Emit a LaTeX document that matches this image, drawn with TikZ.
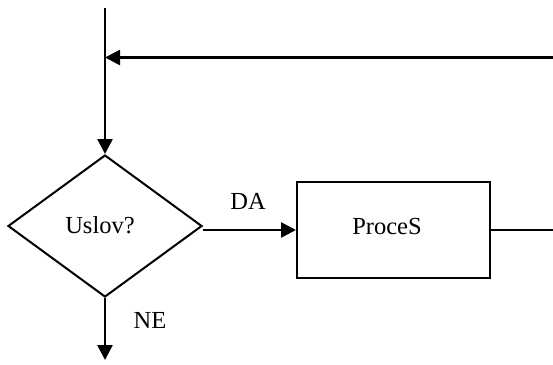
\documentclass[tikz,border=0pt]{standalone}
\usepackage{fontspec}
\setmainfont{Liberation Serif}
\usetikzlibrary{shapes.geometric,arrows.meta}
\tikzset{
  flow/.style={line width=2.6pt},
  thinflow/.style={line width=2pt},
  arrowed/.style={flow,-{Triangle[length=15pt,width=15pt]}},
  outline/.style={draw,line width=2pt,inner sep=0pt},
  lbl/.style={font=\fontsize{24.5}{28}\selectfont,inner sep=0pt}
}
\begin{document}
\begin{tikzpicture}[x=1pt,y=-1pt]
  \useasboundingbox (0,0) rectangle (553,364);
  % shapes
  \node[outline,diamond,minimum width=194pt,minimum height=142pt,aspect=1.366] (dia) at (105,226) {};
  \node[lbl] (cond) at (100,225) {Uslov?};
  \node[outline,rectangle,minimum width=193pt,minimum height=96pt] (box) at (393.5,230) {};
  \node[lbl] (proc) at (387,227) {ProceS};
  \node[lbl] (da) at (248,201) {DA};
  \node[lbl] (ne) at (150,320) {NE};
  % connector end points
  \coordinate (top) at (105,8);
  \coordinate (join) at (105,57.5);
  \coordinate (back) at (553,57.5);
  \coordinate (out) at (553,230);
  \coordinate (down) at (105,360);
  % connectors
  \draw[arrowed] (top) -- (dia.north);
  \draw[arrowed] (back) -- (join);
  \draw[arrowed] (dia.east |- box.west) -- (box.west);
  \draw[thinflow] (box.east) -- (out);
  \draw[arrowed] (dia.south) -- (down);
\end{tikzpicture}
\end{document}
